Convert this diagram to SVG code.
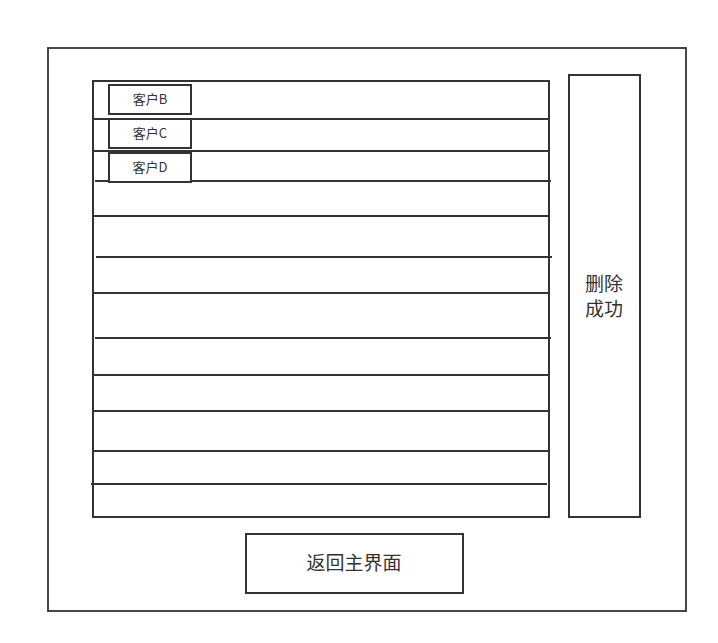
<svg xmlns="http://www.w3.org/2000/svg" width="718" height="643" viewBox="0 0 718 643">
<style>
.b{fill:#fff;stroke:#333;stroke-width:2}
.l{stroke:#333;stroke-width:2;fill:none}
.t{font-family:"Noto Sans CJK SC","Noto Sans",sans-serif;fill:#333;text-anchor:middle}
</style>
<rect width="718" height="643" fill="#fff"/>
<g id="frame"><rect class="b" x="48" y="48" width="638" height="563" style="stroke:#333;stroke-width:1.8"/></g>
<g id="list"><rect class="b" x="93" y="81" width="456" height="436"/></g>
<g id="rows">
<line class="l" x1="93" y1="119" x2="549" y2="119"/>
<line class="l" x1="93" y1="151" x2="549" y2="151"/>
<line class="l" x1="95" y1="181" x2="551" y2="181"/>
<line class="l" x1="93" y1="216" x2="549" y2="216"/>
<line class="l" x1="96" y1="257" x2="552" y2="257"/>
<line class="l" x1="93" y1="293" x2="549" y2="293"/>
<line class="l" x1="95" y1="338" x2="551" y2="338"/>
<line class="l" x1="93" y1="375" x2="549" y2="375"/>
<line class="l" x1="93" y1="411" x2="549" y2="411"/>
<line class="l" x1="93" y1="451" x2="549" y2="451"/>
<line class="l" x1="91" y1="484" x2="547" y2="484"/>
</g>
<g id="custB"><rect class="b" x="109" y="85" width="82" height="29"/><text class="t" x="150" y="104" font-size="13">客户B</text></g>
<g id="custC"><rect class="b" x="109" y="119" width="82" height="29"/><text class="t" x="150" y="138" font-size="13">客户C</text></g>
<g id="custD"><rect class="b" x="109" y="153" width="82" height="29"/><text class="t" x="150" y="172" font-size="13">客户D</text></g>
<g id="msg"><rect class="b" x="569" y="75" width="71" height="442"/><text class="t" x="604" y="291" font-size="19">删除</text><text class="t" x="604" y="316" font-size="19">成功</text></g>
<g id="back"><rect class="b" x="246" y="534" width="217" height="59"/><text class="t" x="354" y="570" font-size="19">返回主界面</text></g>
<g id="connectors"></g>
</svg>
